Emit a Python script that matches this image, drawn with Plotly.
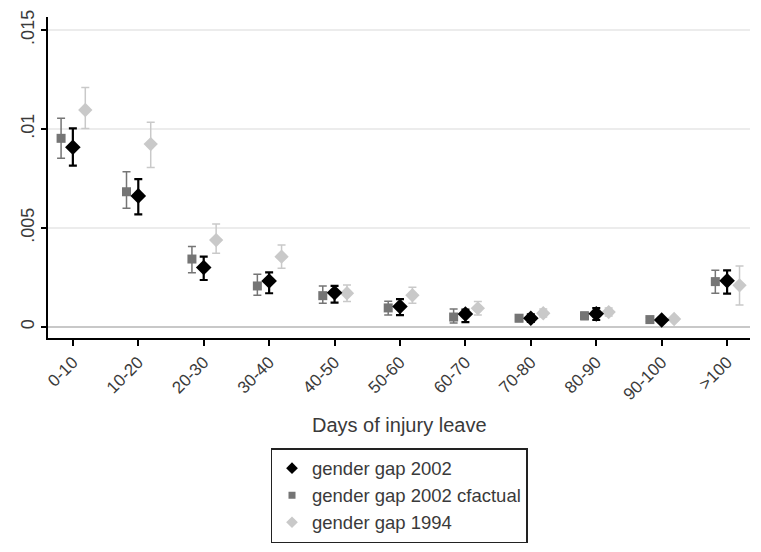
import numpy as np
import plotly.graph_objects as go

categories = ["0-10", "10-20", "20-30", "30-40", "40-50", "50-60",
              "60-70", "70-80", "80-90", "90-100", ">100"]

gap2002 = [0.00908, 0.00662, 0.00300, 0.00232, 0.00173, 0.00103, 0.00065, 0.00044, 0.00066, 0.00035, 0.00233]
gap2002_lo = [0.00815, 0.00569, 0.00237, 0.00170, 0.00123, 0.00060, 0.00024, 0.00025, 0.00035, 0.00025, 0.00168]
gap2002_hi = [0.01003, 0.00747, 0.00355, 0.00276, 0.00207, 0.00140, 0.00088, 0.00063, 0.00095, 0.00045, 0.00286]

cfactual = [0.00953, 0.00683, 0.00343, 0.00207, 0.00158, 0.00096, 0.00050, 0.00044, 0.00056, 0.00037, 0.00229]
cfactual_lo = [0.00852, 0.00600, 0.00274, 0.00160, 0.00120, 0.00060, 0.00020, 0.00028, 0.00038, 0.00027, 0.00170]
cfactual_hi = [0.01054, 0.00784, 0.00406, 0.00266, 0.00207, 0.00130, 0.00090, 0.00060, 0.00074, 0.00047, 0.00286]

gap1994 = [0.01096, 0.00924, 0.00439, 0.00355, 0.00170, 0.00160, 0.00094, 0.00069, 0.00075, 0.00040, 0.00210]
gap1994_lo = [0.01003, 0.00805, 0.00372, 0.00296, 0.00128, 0.00120, 0.00060, 0.00050, 0.00055, 0.00030, 0.00111]
gap1994_hi = [0.01210, 0.01034, 0.00520, 0.00414, 0.00212, 0.00200, 0.00128, 0.00090, 0.00095, 0.00050, 0.00308]

ytick_vals = [0, 0.005, 0.01, 0.015]
ytick_text = ["0", ".005", ".01", ".015"]

FONT = "Liberation Sans, Arial, sans-serif"
TXT = "#3a3a3a"
idx = np.arange(len(categories))


def errs(v, lo, hi):
    v, lo, hi = np.array(v), np.array(lo), np.array(hi)
    return hi - v, v - lo


fig = go.Figure()

series = [
    # name, values, lo, hi, offset, symbol, size, color, err thickness, rank
    ("gender gap 1994", gap1994, gap1994_lo, gap1994_hi, 0.19, "diamond", 11, "#c9c9c9", 1.5, 3),
    ("gender gap 2002 cfactual", cfactual, cfactual_lo, cfactual_hi, -0.18, "square", 9, "#757575", 1.5, 2),
    ("gender gap 2002", gap2002, gap2002_lo, gap2002_hi, 0.0, "diamond", 12, "black", 2.2, 1),
]

for name, v, lo, hi, off, sym, size, col, th, rank in series:
    up, dn = errs(v, lo, hi)
    fig.add_trace(go.Scatter(
        x=idx + off, y=v, mode="markers", name=name, showlegend=False,
        marker=dict(symbol=sym, size=size, color=col),
        error_y=dict(type="data", symmetric=False, array=up, arrayminus=dn,
                     color=col, thickness=th, width=4),
    ))

# legend-only entries (smaller key symbols, as in the original)
for name, v, lo, hi, off, sym, size, col, th, rank in series:
    fig.add_trace(go.Scatter(
        x=[None], y=[None], mode="markers", name=name, legendrank=rank,
        marker=dict(symbol=sym, size=9 if sym == "diamond" else 7, color=col),
    ))

fig.update_layout(
    width=745, height=544,
    margin=dict(l=40, r=3, t=9, b=214, autoexpand=False),
    paper_bgcolor="white", plot_bgcolor="white",
    font=dict(family=FONT, size=17, color=TXT),
    showlegend=True,
    legend=dict(
        x=0.5, xanchor="center", y=-0.343, yanchor="top",
        bordercolor="#222222", borderwidth=1.5,
        font=dict(size=18.5, color=TXT),
        itemsizing="trace", itemwidth=30, tracegroupgap=0,
    ),
    annotations=[dict(
        text="Days of injury leave", x=0.5, xref="paper",
        y=-0.271, yref="paper", yanchor="middle", showarrow=False,
        font=dict(size=20, color=TXT),
    )],
)

fig.update_xaxes(
    range=[-0.38, 10.35], automargin=False,
    tickmode="array", tickvals=idx, ticktext=categories,
    tickangle=-45, ticks="outside", ticklen=6, tickcolor="black", tickwidth=1.5,
    showline=True, linecolor="black", linewidth=1.5,
    showgrid=False, zeroline=False,
    tickfont=dict(size=17, color=TXT),
)

fig.update_yaxes(
    range=[-0.00056, 0.01566], automargin=False,
    tickmode="array", tickvals=ytick_vals, ticktext=ytick_text,
    tickangle=-90, ticks="outside", ticklen=5, tickcolor="black", tickwidth=1.5,
    showline=True, linecolor="black", linewidth=1.5,
    showgrid=True, gridcolor="#ececec", gridwidth=1.5,
    zeroline=True, zerolinecolor="#c8c8c8", zerolinewidth=1.5,
    tickfont=dict(size=18, color=TXT),
)

fig.write_html("out.html")
